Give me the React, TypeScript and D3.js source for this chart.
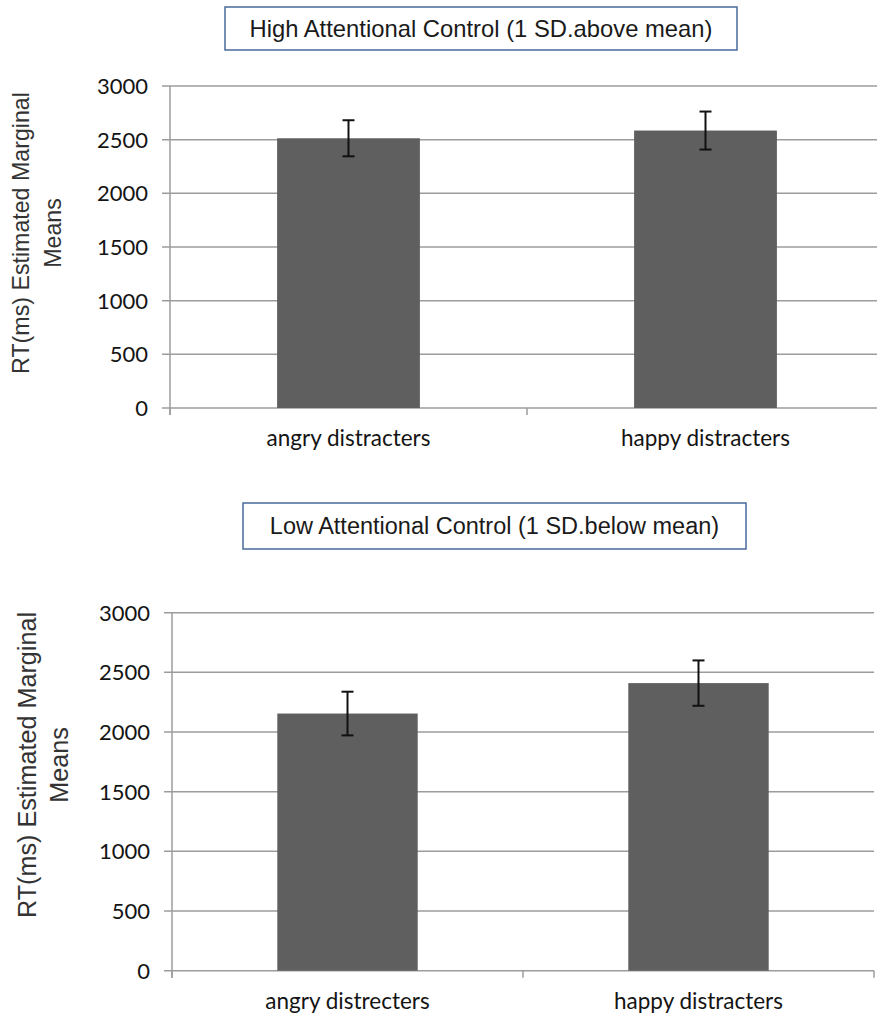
import React from "react";
import * as d3 from "d3";

const yTicks = [0, 500, 1000, 1500, 2000, 2500, 3000];

const highTitle = "High Attentional Control (1 SD.above mean)";
const highCategories = ["angry distracters", "happy distracters"];
const highMeans = [2513, 2585];
const highErrors = [168, 177];

const lowTitle = "Low Attentional Control (1 SD.below mean)";
const lowCategories = ["angry distrecters", "happy distracters"];
const lowMeans = [2155, 2410];
const lowErrors = [183, 190];

const yLabelLines = ["RT(ms) Estimated Marginal", "Means"];

type PanelProps = {
  title: string;
  categories: string[];
  means: number[];
  errors: number[];
  left: number;
  right: number;
  top: number;
  bottom: number;
  box: { x0: number; x1: number; y0: number; y1: number };
  titleSize: number;
  yLabel: { cy: number; b1: number; b2: number; size: number };
  catY: number;
};

function Panel(p: PanelProps) {
  const y = d3.scaleLinear().domain([0, 3000]).range([p.bottom, p.top]);
  const x = d3
    .scaleBand<string>()
    .domain(p.categories)
    .range([p.left, p.right])
    .paddingInner(0.6)
    .paddingOuter(0.3);
  const step = x.step();
  const boundaries = d3.range(p.categories.length + 1).map((i) => p.left + i * step);
  const grid = "#9c9c9c";
  const capHalf = 6;
  return (
    <g>
      <rect
        x={p.box.x0}
        y={p.box.y0}
        width={p.box.x1 - p.box.x0}
        height={p.box.y1 - p.box.y0}
        fill="#fff"
        stroke="#4a6a9c"
        strokeWidth={1.5}
      />
      <text
        x={(p.box.x0 + p.box.x1) / 2}
        y={(p.box.y0 + p.box.y1) / 2}
        dy="0.35em"
        textAnchor="middle"
        fontFamily="'Liberation Sans', Arial, sans-serif"
        fontSize={p.titleSize}
        fill="#1a1a1a"
      >
        {p.title}
      </text>
      {yTicks.map((t) => (
        <g key={t}>
          <line
            x1={p.left - 8}
            x2={p.right}
            y1={y(t)}
            y2={y(t)}
            stroke={grid}
            strokeWidth={1.5}
          />
          <text
            x={p.left - 22}
            y={y(t)}
            dy="0.36em"
            textAnchor="end"
            fontFamily="Lato, 'Open Sans', sans-serif"
            fontSize={22}
            fill="#141414"
          >
            {t}
          </text>
        </g>
      ))}
      <line x1={p.left} x2={p.left} y1={p.top} y2={p.bottom + 7} stroke={grid} strokeWidth={1.5} />
      {boundaries.map((b, i) => (
        <line key={i} x1={b} x2={b} y1={p.bottom} y2={p.bottom + 7} stroke={grid} strokeWidth={1.5} />
      ))}
      {p.categories.map((c, i) => {
        const bx = x(c) as number;
        const cx = bx + x.bandwidth() / 2;
        const lo = y(p.means[i] - p.errors[i]);
        const hi = y(p.means[i] + p.errors[i]);
        return (
          <g key={c}>
            <rect
              x={bx}
              y={y(p.means[i])}
              width={x.bandwidth()}
              height={p.bottom - y(p.means[i])}
              fill="#5f5f5f"
            />
            <line x1={cx} x2={cx} y1={hi} y2={lo} stroke="#111" strokeWidth={2} />
            <line x1={cx - capHalf} x2={cx + capHalf} y1={hi} y2={hi} stroke="#111" strokeWidth={2} />
            <line x1={cx - capHalf} x2={cx + capHalf} y1={lo} y2={lo} stroke="#111" strokeWidth={2} />
            <text
              x={cx}
              y={p.catY}
              dy="0.35em"
              textAnchor="middle"
              fontFamily="Lato, 'Open Sans', sans-serif"
              fontSize={22.5}
              fill="#141414"
            >
              {c}
            </text>
          </g>
        );
      })}
      <text
        transform={`translate(0, ${p.yLabel.cy}) rotate(-90)`}
        textAnchor="middle"
        fontFamily="'Liberation Sans', Arial, sans-serif"
        fontSize={p.yLabel.size}
        fill="#333"
      >
        <tspan x={0} y={p.yLabel.b1}>
          {yLabelLines[0]}
        </tspan>
        <tspan x={0} y={p.yLabel.b2}>
          {yLabelLines[1]}
        </tspan>
      </text>
    </g>
  );
}

export default function App() {
  return (
    <svg
      width={877}
      height={1016}
      style={{ position: "absolute", left: 0, top: 0, background: "#fff" }}
    >
      <rect x={0} y={0} width={877} height={1016} fill="#fff" />
      <Panel
        title={highTitle}
        categories={highCategories}
        means={highMeans}
        errors={highErrors}
        left={170}
        right={884}
        top={86}
        bottom={408}
        box={{ x0: 225, x1: 737, y0: 7, y1: 50 }}
        titleSize={23.8}
        yLabel={{ cy: 233, b1: 29, b2: 61, size: 23.2 }}
        catY={438}
      />
      <Panel
        title={lowTitle}
        categories={lowCategories}
        means={lowMeans}
        errors={lowErrors}
        left={172}
        right={874}
        top={612.7}
        bottom={970.7}
        box={{ x0: 243, x1: 746, y0: 503, y1: 549 }}
        titleSize={23.5}
        yLabel={{ cy: 765, b1: 36, b2: 68, size: 25.2 }}
        catY={1001}
      />
    </svg>
  );
}
